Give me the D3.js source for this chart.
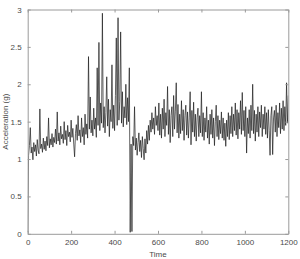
<!DOCTYPE html>
<html>
<head>
<meta charset="utf-8">
<script src="https://cdn.jsdelivr.net/npm/d3@7"></script>
<style>
body { margin: 0; background: #fff; }
svg { display: block; }
text { font-family: "Liberation Sans", Arial, sans-serif; }
</style>
</head>
<body>
<div id="chart"></div>
<script>
const width = 300,
height = 259,
margin = { top: 9.5, bottom: 25.2, left: 27.7, right: 11.7 };

// one sample every 4 time units
const sampleStep = 4;

const accel0to296 = [
0.02, 1.05, 1.18, 1.42, 1.08, 1.16, 0.99, 1.22, 1.10, 1.19, 1.04, 1.26, 1.12, 1.07, 1.67, 1.14, 1.20, 1.09, 1.28, 1.13, 1.24, 1.11, 1.30, 1.18, 1.55,
1.15, 1.27, 1.19, 1.34, 1.16, 1.29, 1.22, 1.40, 1.20, 1.63, 1.24, 1.35, 1.19, 1.44, 1.27, 1.33, 1.21, 1.50, 1.26, 1.38, 1.18, 1.45, 1.30, 1.36, 1.23,
1.52, 1.29, 1.41, 1.20, 1.03, 1.34, 1.46, 1.25, 1.58, 1.31, 1.39, 1.22, 1.55, 1.30, 1.42, 1.19, 1.60, 1.33, 1.47, 1.28, 2.37, 1.40, 1.83, 1.35, 1.52
];
const accel300to596 = [
1.31, 1.68, 1.40, 1.55, 1.29, 2.22, 1.45, 2.56, 1.38, 1.75, 1.48, 2.95, 1.42, 1.70, 1.35, 1.62, 2.10, 1.44, 1.80, 1.30, 1.66, 1.50, 2.26, 1.41, 1.72,
1.38, 1.85, 2.62, 1.45, 2.89, 1.52, 1.77, 2.70, 1.48, 1.90, 1.43, 1.70, 1.55, 2.00, 1.46, 1.82, 1.50, 2.22, 0.02, 1.20, 0.03, 1.30, 1.18, 1.70, 1.12,
1.28, 1.05, 1.22, 1.35, 1.10, 1.25, 1.02, 1.30, 1.14, 0.99, 1.27, 1.08, 1.38, 1.20, 1.45, 1.25, 1.52, 1.36, 1.62, 1.40, 1.55, 1.33, 1.70, 1.45, 1.58
];
const accel600to896 = [
1.38, 1.75, 1.32, 1.60, 1.28, 1.68, 1.40, 1.80, 1.30, 1.62, 1.45, 1.97, 1.33, 1.66, 1.22, 1.58, 1.70, 1.30, 1.85, 1.40, 1.64, 2.02, 1.35, 1.73, 1.28,
1.60, 1.34, 1.78, 1.38, 1.66, 1.25, 1.58, 1.72, 1.32, 1.63, 1.28, 1.55, 1.90, 1.19, 1.65, 1.36, 1.76, 1.30, 1.60, 1.24, 1.55, 1.68, 1.30, 1.58, 1.35,
1.90, 1.30, 1.62, 1.25, 1.55, 1.36, 1.70, 1.28, 1.52, 1.20, 1.60, 1.33, 1.66, 1.28, 1.55, 1.18, 1.50, 1.72, 1.30, 1.58, 1.26, 1.52, 1.34, 1.63, 1.28
];
const accel900to1200 = [
1.55, 1.25, 1.48, 1.17, 1.52, 1.30, 1.62, 1.26, 1.58, 1.34, 1.70, 1.30, 1.60, 1.38, 1.75, 1.32, 1.66, 1.27, 1.62, 1.40, 1.78, 1.33, 1.89, 1.38, 1.65,
1.30, 1.70, 1.08, 1.55, 1.34, 1.66, 1.28, 1.72, 1.38, 2.00, 1.34, 1.65, 1.24, 1.60, 1.36, 1.70, 1.30, 1.63, 1.42, 1.72, 1.30, 1.60, 1.40, 1.70, 1.33,
1.62, 1.28, 1.66, 1.38, 1.05, 1.58, 1.70, 1.06, 1.55, 1.65, 1.36, 1.72, 1.30, 1.62, 1.42, 1.75, 1.34, 1.68, 1.40, 1.78, 1.38, 1.70, 1.45, 2.02, 1.48,
1.85
];

const xTicks = [0, 200, 400, 600, 800, 1000, 1200];
const yTicks = [0, 0.5, 1, 1.5, 2, 2.5, 3];

const data = [...accel0to296, ...accel300to596, ...accel600to896, ...accel900to1200]
  .map((v, i) => ({ t: i * sampleStep, a: v }));

const xScale = d3.scaleLinear()
  .domain([0, 1200])
  .range([margin.left, width - margin.right]);

const yScale = d3.scaleLinear()
  .domain([0, 3])
  .range([height - margin.bottom, margin.top]);

const svg = d3.select("#chart")
  .append("svg")
  .attr("width", width)
  .attr("height", height);

const axisColor = "#9a9a9a";
const textColor = "#4a4a4a";

// data line, clipped to the axes box
svg.append("clipPath")
  .attr("id", "clip")
  .append("rect")
  .attr("x", margin.left)
  .attr("y", margin.top)
  .attr("width", width - margin.left - margin.right)
  .attr("height", height - margin.top - margin.bottom);

const line = d3.line()
  .x(d => xScale(d.t))
  .y(d => yScale(d.a));

svg.append("path")
  .datum(data)
  .attr("clip-path", "url(#clip)")
  .attr("fill", "none")
  .attr("stroke", "#1c1c1c")
  .attr("stroke-width", 0.7)
  .attr("d", line);

// axes, ticks pointing inward on all four sides
function styleAxis(g) {
  g.selectAll(".domain").attr("stroke", axisColor);
  g.selectAll(".tick line").attr("stroke", axisColor);
  g.selectAll(".tick text")
    .attr("fill", textColor)
    .style("font-size", "8px");
}

const plain = d => String(d);

svg.append("g")
  .attr("transform", `translate(0,${height - margin.bottom})`)
  .call(d3.axisBottom(xScale).tickValues(xTicks).tickFormat(plain).tickSizeInner(-3).tickSizeOuter(0).tickPadding(6))
  .call(styleAxis);

svg.append("g")
  .attr("transform", `translate(0,${margin.top})`)
  .call(d3.axisTop(xScale).tickValues(xTicks).tickSizeInner(-3).tickSizeOuter(0).tickFormat(""))
  .call(styleAxis);

svg.append("g")
  .attr("transform", `translate(${margin.left},0)`)
  .call(d3.axisLeft(yScale).tickValues(yTicks).tickFormat(plain).tickSizeInner(-3).tickSizeOuter(0).tickPadding(6))
  .call(styleAxis);

svg.append("g")
  .attr("transform", `translate(${width - margin.right},0)`)
  .call(d3.axisRight(yScale).tickValues(yTicks).tickSizeInner(-3).tickSizeOuter(0).tickFormat(""))
  .call(styleAxis);

svg.append("text")
  .attr("x", (margin.left + width - margin.right) / 2)
  .attr("y", height - 2)
  .attr("text-anchor", "middle")
  .attr("fill", textColor)
  .style("font-size", "8px")
  .text("Time");

svg.append("text")
  .attr("transform", `translate(8,${(margin.top + height - margin.bottom) / 2}) rotate(-90)`)
  .attr("text-anchor", "middle")
  .attr("fill", textColor)
  .style("font-size", "8px")
  .text("Acceleration (g)");
</script>
</body>
</html>
